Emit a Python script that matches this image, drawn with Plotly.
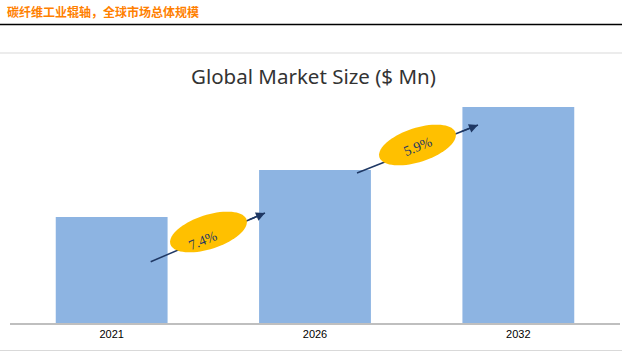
import math
import plotly.graph_objects as go

# ---- data ----
years = ["2021", "2026", "2032"]
market_size = [106, 153, 216]
cagr_labels = ["7.4%", "5.9%"]

header_text = "碳纤维工业辊轴，全球市场总体规模"
chart_title = "Global Market Size ($ Mn)"

# ---- layout geometry (pixels) ----
W, H = 622, 353
ML, MR, MT, MB = 10, 2, 95, 30
PW = W - ML - MR
PH = H - MT - MB
YMAX = PH  # 1 unit per pixel

x_idx = list(range(len(years)))


def px_to_x(px):
    return (px - ML) / PW * 3 - 0.5


def py_to_y(py):
    return (H - MB) - py


def px_to_paper_x(px):
    return (px - ML) / PW


def py_to_paper_y(py):
    return (H - MB - py) / PH


fig = go.Figure()
fig.add_trace(go.Bar(
    x=x_idx, y=market_size, width=0.55,
    marker=dict(color="#8DB4E2", line=dict(width=0)),
    hoverinfo="skip",
))

shapes = []
annotations = []

# header lines
shapes.append(dict(type="line", xref="paper", yref="paper",
                   x0=px_to_paper_x(0), x1=px_to_paper_x(W),
                   y0=py_to_paper_y(24.5), y1=py_to_paper_y(24.5),
                   line=dict(color="#000000", width=1.5)))
shapes.append(dict(type="line", xref="paper", yref="paper",
                   x0=px_to_paper_x(0), x1=px_to_paper_x(W),
                   y0=py_to_paper_y(53), y1=py_to_paper_y(53),
                   line=dict(color="#D9D9D9", width=1)))
shapes.append(dict(type="line", xref="paper", yref="paper",
                   x0=px_to_paper_x(0), x1=px_to_paper_x(W),
                   y0=py_to_paper_y(350.5), y1=py_to_paper_y(350.5),
                   line=dict(color="#D9D9D9", width=1)))

# CAGR arrows + ellipses (pixel geometry)
arrows_px = [((150.7, 261.7), (265, 213)), ((357, 173), (478, 125))]
ellipse_px = [(208.5, 232), (417.5, 145)]
text_px = [(203, 240), (418, 146)]
A, B, TH = 40, 17, math.radians(18)
NAVY = "#1F3864"

for (s, e), (cx, cy), (tx, ty), lab in zip(arrows_px, ellipse_px, text_px, cagr_labels):
    shapes.append(dict(type="line", xref="x", yref="y",
                       x0=px_to_x(s[0]), y0=py_to_y(s[1]),
                       x1=px_to_x(e[0]), y1=py_to_y(e[1]),
                       line=dict(color=NAVY, width=1.5)))
    pts = []
    for k in range(73):
        t = 2 * math.pi * k / 72
        dx = A * math.cos(t) * math.cos(TH) - B * math.sin(t) * math.sin(TH)
        dy = A * math.cos(t) * math.sin(TH) + B * math.sin(t) * math.cos(TH)
        pts.append((px_to_x(cx + dx), py_to_y(cy - dy)))
    path = "M " + " L ".join(f"{x:.5f},{y:.3f}" for x, y in pts) + " Z"
    shapes.append(dict(type="path", xref="x", yref="y", path=path,
                       fillcolor="#FFC000", line=dict(width=0)))
    # arrowhead only
    fx = s[0] + (e[0] - s[0]) * 0.85
    fy = s[1] + (e[1] - s[1]) * 0.85
    annotations.append(dict(x=px_to_x(e[0]), y=py_to_y(e[1]),
                            ax=px_to_x(fx), ay=py_to_y(fy),
                            xref="x", yref="y", axref="x", ayref="y",
                            showarrow=True, arrowhead=2, arrowsize=1.2,
                            arrowwidth=1.5, arrowcolor=NAVY, text=""))
    annotations.append(dict(x=px_to_x(tx), y=py_to_y(ty), xref="x", yref="y",
                            text=lab, showarrow=False, textangle=-22,
                            font=dict(family="Liberation Serif, Times New Roman, serif",
                                      size=14, color=NAVY)))

# chart title
annotations.append(dict(x=px_to_paper_x(313.5), y=py_to_paper_y(76), xref="paper", yref="paper",
                        text=chart_title, showarrow=False, xanchor="center", yanchor="middle",
                        font=dict(family="Noto Sans", size=20.5, color="#333333")))

fig.update_layout(
    width=W, height=H,
    margin=dict(l=ML, r=MR, t=MT, b=MB),
    paper_bgcolor="white", plot_bgcolor="white",
    showlegend=False,
    title=dict(text=header_text, x=7 / W, y=1 - 13 / H, xref="container", yref="container",
               xanchor="left", yanchor="middle",
               font=dict(family="Noto Sans CJK SC", size=12, color="#FF8000", weight="bold")),
    xaxis=dict(range=[-0.5, 2.5], tickvals=x_idx, ticktext=years,
               showgrid=False, zeroline=False, showline=True, linecolor="#BFBFBF",
               linewidth=2, ticks="", tickfont=dict(family="Liberation Sans", size=11, color="#000000"),
               fixedrange=True),
    yaxis=dict(range=[0, YMAX], visible=False, showgrid=False, zeroline=False, fixedrange=True),
    shapes=shapes, annotations=annotations,
)

fig.write_html("out.html", config={"displayModeBar": False})
